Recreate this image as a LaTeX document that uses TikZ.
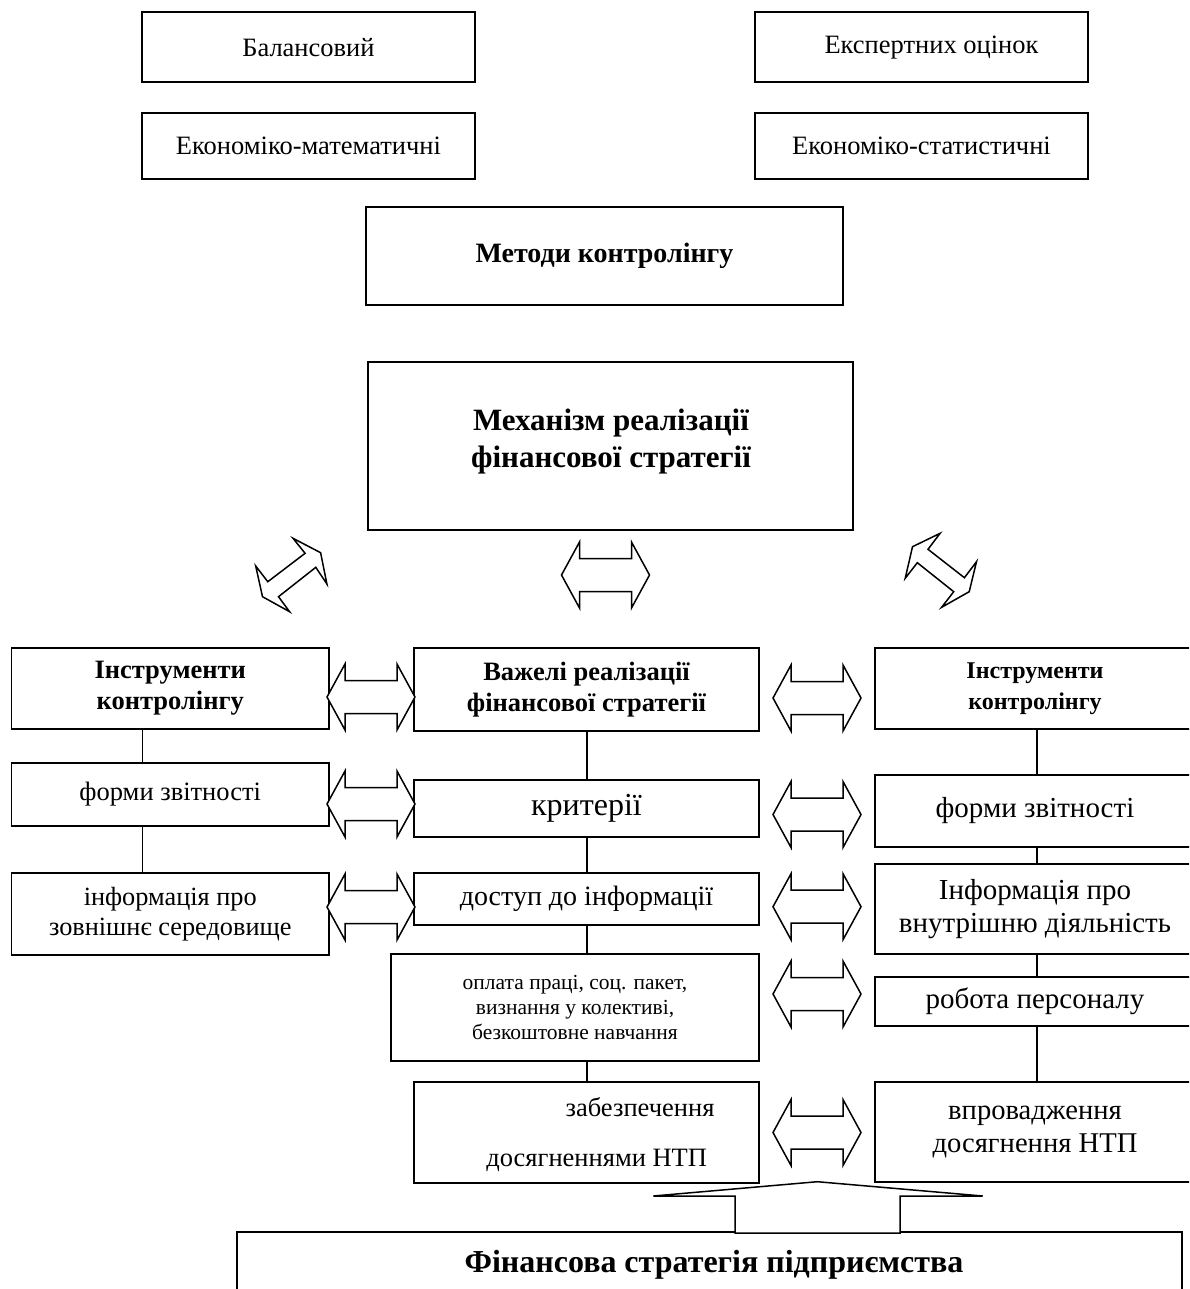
\documentclass[tikz,border=0pt]{standalone}
\usepackage{fontspec}
\setmainfont{Liberation Serif}
\newcommand\fsz[2]{\fontsize{#1}{#2}\selectfont}
\begin{document}
\begin{tikzpicture}[x=1pt,y=-1pt,
  bx/.style={draw, line width=1.8pt, rectangle, inner sep=0pt, align=center},
  lbl/.style={inner sep=0pt, align=center},
  arl/.style={draw, line width=1.5pt, line join=miter, fill=white},
  con/.style={line width=1.8pt},
  pics/dblh/.style={code={\path[arl] (-44,0) -- (-26,-33) -- (-26,-16.5) -- (26,-16.5) -- (26,-33) -- (44,0) -- (26,33) -- (26,16.5) -- (-26,16.5) -- (-26,33) -- cycle;}}]
\useasboundingbox (0,0) rectangle (1189,1289);
\clip (0,0) rectangle (1189,1289);

% top boxes
\node[bx, minimum width=333.7, minimum height=69.7, font=\fsz{26.5}{30}] (bal) at (308.45,47.15) {Балансовий};
\node[bx, minimum width=333.7, minimum height=66.3, font=\fsz{26.5}{30}] (ecoM) at (308.45,145.85) {Економіко-математичні};
\node[bx, minimum width=333, minimum height=69.7, font=\fsz{26.5}{30}] (exp) at (921.5,47.15) {\hspace*{20pt}Експертних оцінок};
\node[bx, minimum width=333, minimum height=66, font=\fsz{26.5}{30}] (ecoS) at (921.5,146) {Економіко-статистичні};
\node[bx, minimum width=477, minimum height=98, font=\fsz{28}{32}\bfseries] (met) at (604.5,256) {Методи контролінгу};

% mechanism
\node[bx, minimum width=485, minimum height=168] (mech) at (610.5,446) {};
\node[lbl, anchor=base, font=\fsz{31}{36}\bfseries] (mechA) at (611,430) {Механізм реалізації};
\node[lbl, anchor=base, font=\fsz{31}{36}\bfseries] (mechB) at (611,467) {фінансової стратегії};

% left column
\node[bx, minimum width=317.5, minimum height=81, font=\fsz{26.5}{31}\bfseries] (instL) at (170.25,688.5) {Інструменти\\контролінгу};
\node[bx, minimum width=317.5, minimum height=63, font=\fsz{26.5}{30}] (formL) at (170.25,794.5) {форми звітності};
\node[bx, minimum width=317.5, minimum height=82.3, font=\fsz{26.3}{30}] (infoL) at (170.25,913.85) {інформація про\\зовнішнє середовище};

% middle column
\node[bx, minimum width=345, minimum height=82.4, font=\fsz{26.5}{31}\bfseries] (vaz) at (586.5,689.5) {Важелі реалізації\\фінансової стратегії};
\node[bx, minimum width=345, minimum height=56.7, font=\fsz{32}{36}] (krit) at (586.5,808.35) {критерії};
\node[bx, minimum width=345, minimum height=52.3, font=\fsz{28}{32}] (dost) at (586.5,898.85) {доступ до інформації};
\node[bx, minimum width=368, minimum height=106.4, font=\fsz{21.5}{25}] (opl) at (575,1007.5) {оплата праці, соц. пакет,\\визнання у колективі,\\безкоштовне навчання};
\node[bx, minimum width=345, minimum height=100.4] (zab) at (586.5,1132.5) {};
\node[lbl, anchor=base, font=\fsz{26.5}{30}] (zabA) at (640,1116.7) {забезпечення};
\node[lbl, anchor=base, font=\fsz{26.5}{30}] (zabB) at (596.7,1166.7) {досягненнями НТП};

% right column
\node[bx, minimum width=320.8, minimum height=80.7, font=\fsz{24}{31.5}\bfseries] (instR) at (1035,688.65) {Інструменти\\контролінгу};
\node[bx, minimum width=320.8, minimum height=71.7, font=\fsz{29}{33}] (formR) at (1035,810.85) {форми звітності};
\node[bx, minimum width=320.8, minimum height=90, font=\fsz{29}{33}] (infoR) at (1035,909.3) {Інформація про\\внутрішню діяльність};
\node[bx, minimum width=320.8, minimum height=49, font=\fsz{29}{33}] (rob) at (1035,1001.2) {робота персоналу};
\node[bx, minimum width=320.8, minimum height=100.6, font=\fsz{28.6}{33}] (vpr) at (1035,1132) {впровадження\\досягнення НТП};

% bottom box
\node[bx, minimum width=945, minimum height=90] (fin) at (709.2,1277.3) {};
\node[lbl, anchor=base, font=\fsz{32}{36}\bfseries] (finT) at (714,1272) {Фінансова стратегія підприємства};

% connector columns
\coordinate (cL) at (142.4,0);
\coordinate (cM) at (586.7,0);
\coordinate (cR) at (1037,0);

\draw[con] (instL.south -| cL) -- (formL.north -| cL);
\draw[con] (formL.south -| cL) -- (infoL.north -| cL);
\draw[con] (vaz.south -| cM) -- (krit.north -| cM);
\draw[con] (krit.south -| cM) -- (dost.north -| cM);
\draw[con] (dost.south -| cM) -- (opl.north -| cM);
\draw[con] (opl.south -| cM) -- (zab.north -| cM);
\draw[con] (instR.south -| cR) -- (formR.north -| cR);
\draw[con] (formR.south -| cR) -- (infoR.north -| cR);
\draw[con] (infoR.south -| cR) -- (rob.north -| cR);
\draw[con] (rob.south -| cR) -- (vpr.north -| cR);

% horizontal double block arrows
\pic at (605.5,575) {dblh};
\pic at (371,697) {dblh};
\pic at (371,804) {dblh};
\pic at (371,907) {dblh};
\pic at (817,698) {dblh};
\pic at (817,814.5) {dblh};
\pic at (817,906.7) {dblh};
\pic at (817,994) {dblh};
\pic at (817,1132.5) {dblh};

% diagonal double block arrows
\path[arl] (293,538.3) -- (305.1,553.3) -- (267.8,581.7) -- (255.7,566) -- (262.5,596.7) -- (289.6,611.7) -- (278.5,596.7) -- (315.8,567.3) -- (326.9,584) -- (320.6,552.7) -- cycle;
\path[arl] (940.1,533.3) -- (928,549.3) -- (964.4,577.7) -- (976.5,561.7) -- (969.2,591.7) -- (941.6,607.3) -- (953.7,591.7) -- (917.3,562.7) -- (905.2,578.3) -- (912.5,546.7) -- cycle;

% big upward arrow
\path[arl] (653.3,1196) -- (817.3,1181.7) -- (982.7,1196) -- (900,1196) -- (900,1233) -- (735,1233) -- (735,1196) -- cycle;
\end{tikzpicture}
\end{document}
